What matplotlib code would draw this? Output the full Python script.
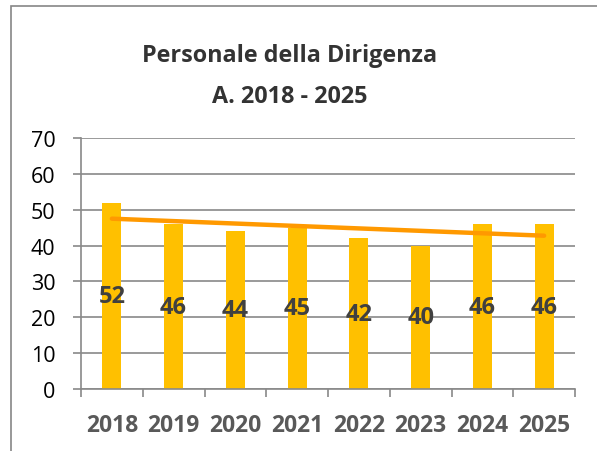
#!/usr/bin/env python3
"""Personale della Dirigenza, A. 2018 - 2025: bar chart with linear trendline."""

import numpy as np
import matplotlib
matplotlib.use("Agg")
import matplotlib.pyplot as plt
from matplotlib.patches import Rectangle

# ── Data ──
years = ["2018", "2019", "2020", "2021", "2022", "2023", "2024", "2025"]
staff = [52, 46, 44, 45, 42, 40, 46, 46]
y_ticks = [0, 10, 20, 30, 40, 50, 60, 70]

BAR_COLOR = "#FFC000"
TREND_COLOR = "#FF9900"
GRID_COLOR = "#898989"

plt.rcParams["font.family"] = ["Open Sans", "DejaVu Sans"]

fig = plt.figure(figsize=(5.97, 4.52), dpi=100)
ax = fig.add_axes([81 / 597, 1 - 390 / 452, 494 / 597, 251 / 452])

x = np.arange(len(years))
ax.bar(x, staff, width=0.31, color=BAR_COLOR, zorder=2)

# Linear trendline (as in the spreadsheet)
slope, intercept = np.polyfit(x, staff, 1)
ax.plot(x, slope * x + intercept, color=TREND_COLOR, lw=3.2,
        solid_capstyle="round", zorder=3)

# Value labels at mid-height of each bar
for xi, v in zip(x, staff):
    ax.text(xi, v / 2, str(v), ha="center", va="center", fontsize=17,
            fontweight="bold", color="#404040", zorder=4)

ax.set_xlim(-0.5, len(years) - 0.5)
ax.set_ylim(0, 70)
ax.set_yticks(y_ticks)
ax.set_yticklabels([str(t) for t in y_ticks], fontsize=15.5, color="black")
ax.set_xticks(x)
ax.set_xticklabels(years, fontsize=16.5, fontweight="bold", color="#595959")
ax.set_xticks(np.arange(-0.5, len(years)), minor=True)

ax.tick_params(axis="x", which="major", length=0, pad=17)
ax.tick_params(axis="x", which="minor", length=6, width=1.2, color=GRID_COLOR,
               direction="out")
ax.tick_params(axis="y", length=5.5, width=1.2, color=GRID_COLOR, pad=13)

ax.yaxis.grid(True, color=GRID_COLOR, lw=1.2, zorder=0)
ax.set_axisbelow(True)
for side in ("top", "right"):
    ax.spines[side].set_visible(False)
for side in ("left", "bottom"):
    ax.spines[side].set_color(GRID_COLOR)
    ax.spines[side].set_linewidth(1.2)

# Title
fig.text(290 / 597, 1 - 56 / 452, "Personale della Dirigenza", ha="center",
         va="center", fontsize=16.8, fontweight="bold", color="#333333")
fig.text(290 / 597, 1 - 97 / 452, "A. 2018 - 2025", ha="center",
         va="center", fontsize=16.8, fontweight="bold", color="#333333")

# Chart border (cut off at right and bottom)
fig.patches.append(Rectangle((11 / 597, -0.05), 1.2, 1 - 7 / 452 + 0.05,
                             transform=fig.transFigure, fill=False,
                             edgecolor="#868686", lw=1.2))

fig.savefig("out.png", dpi=100)
